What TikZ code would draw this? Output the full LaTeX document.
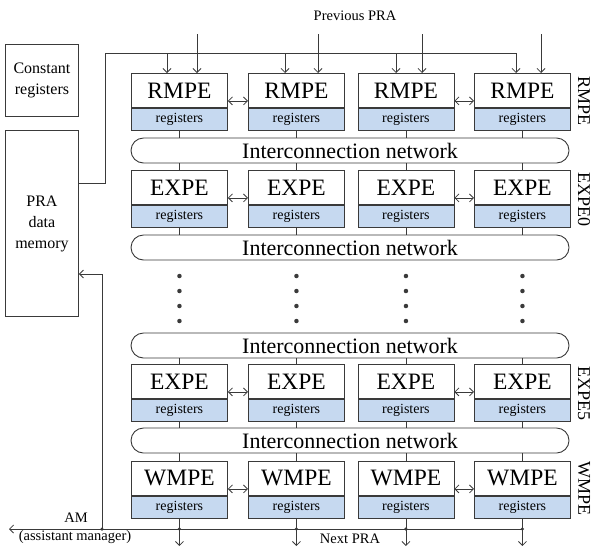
\documentclass[tikz,border=0pt]{standalone}
\usepackage{fontspec}
\setmainfont{Liberation Serif}
\usetikzlibrary{arrows.meta,calc}
\definecolor{regblue}{HTML}{C6D9F0}
\definecolor{ln}{HTML}{3A3A3A}
\begin{document}
\begin{tikzpicture}[x=1pt,y=-1pt,
  tip/.tip={Straight Barb[length=4pt,width=8pt]},
  conn/.style={draw=ln, line width=0.8pt},
  arr/.style={conn,-tip},
  darr/.style={conn,tip-tip},
  pebox/.style={draw=ln, line width=0.9pt, fill=white, minimum width=96pt, minimum height=34pt, inner sep=0pt, font=\fontsize{23.5}{23.5}\selectfont},
  regbox/.style={draw=ln, line width=0.9pt, fill=regblue, minimum width=96pt, minimum height=22pt, inner sep=0pt, font=\fontsize{14}{14}\selectfont},
  net/.style={draw=ln, line width=0.9pt, rounded corners=12.5pt, minimum width=438pt, minimum height=25pt, inner sep=0pt, font=\fontsize{22}{22}\selectfont},
  sidebox/.style={draw=ln, line width=0.9pt, inner sep=0pt, align=center, font=\fontsize{16}{21}\selectfont},
  rowlab/.style={rotate=-90, inner sep=0pt, font=\fontsize{18}{18}\selectfont},
  small/.style={inner sep=0pt, font=\fontsize{14.5}{14.5}\selectfont},
  jdot/.style={fill=ln, circle, inner sep=0pt, minimum size=3.5pt}
]
\useasboundingbox (0,0) rectangle (601,547);

% side boxes
\node[sidebox, minimum width=73pt, minimum height=72pt, anchor=north west] (const) at (5,44) {Constant\\registers};
\node[sidebox, minimum width=73pt, minimum height=186pt, anchor=north west] (mem) at (5,130) {PRA\\data\\memory};

% PE rows
\foreach \r/\y/\lab in {1/73/RMPE,2/170/EXPE,3/364/EXPE,4/461/WMPE} {
  \foreach \c/\x in {1/131,2/248,3/357.5,4/474} {
    \node[pebox, anchor=north west] (p\r\c) at (\x,\y) {\lab};
    \node[regbox, anchor=north] (g\r\c) at (p\r\c.south) {registers};
  }
  \draw[darr] ([yshift=7pt]p\r1.south east) -- ([yshift=7pt]p\r2.south west);
  \draw[darr] ([yshift=7pt]p\r3.south east) -- ([yshift=7pt]p\r4.south west);
}

% interconnection networks
\foreach \n/\y in {1/150.5,2/247.5,3/345.5,4/440.5}
  \node[net] (n\n) at (350,\y) {Interconnection network};

% vertical connectors
\foreach \c in {1,2,3,4} {
  \draw[conn] (g1\c.south) -- (g1\c.south |- n1.north);
  \draw[conn] (p2\c.north |- n1.south) -- (p2\c.north);
  \draw[conn] (g2\c.south) -- (g2\c.south |- n2.north);
  \draw[conn] (p3\c.north |- n3.south) -- (p3\c.north);
  \draw[conn] (g3\c.south) -- (g3\c.south |- n4.north);
  \draw[conn] (p4\c.north |- n4.south) -- (p4\c.north);
}

% dots
\foreach \c in {1,2,3,4}
  \foreach \y in {276,291,306,321}
    \node[jdot, minimum size=4.5pt] (d\c\y) at (p1\c.north |- 0,\y) {};

% previous PRA inputs
\node[small] (prev) at (355,16) {Previous PRA};
\foreach \c/\x in {1/197,2/318,3/422,4/541} {
  \coordinate (q\c) at (\x,34);
  \draw[arr] (q\c) -- (q\c |- p1\c.north);
}
% memory feed
\coordinate (m1) at (105,183);
\foreach \c/\x in {1/167,2/285,3/396,4/516}
  \coordinate (t\c) at (\x,53);
\draw[arr] (mem.east |- m1) -- (m1) |- (t4) -- (t4 |- p14.north);
\foreach \c in {1,2,3}
  \draw[arr] (t\c) -- (t\c |- p1\c.north);

% bottom bus
\coordinate (amL) at (9,529);
\coordinate (amJ) at (102,529);
\coordinate (memin) at (102,274);
\foreach \c in {1,2,3,4} {
  \coordinate (b\c) at (g4\c.south |- 0,529);
  \coordinate (o\c) at (g4\c.south |- 0,546);
  \draw[arr] (g4\c.south) -- (o\c);
  \node[jdot] (bj\c) at (b\c) {};
}
\draw[arr] (b4) -- (amL);
\draw[arr] (amJ) -- (memin) -- (memin -| mem.east);
\node[jdot] (amdot) at (amJ) {};

\node[small] (am) at (76,518) {AM};
\node[small] (amfull) at (75,537) {(assistant manager)};
\node[small] (next) at (350,539) {Next PRA};

% row labels
\node[rowlab] (l1) at (584,101) {RMPE};
\node[rowlab] (l2) at (584,199) {EXPE0};
\node[rowlab] (l3) at (584,393) {EXPE5};
\node[rowlab] (l4) at (584,488) {WMPE};
\end{tikzpicture}
\end{document}
